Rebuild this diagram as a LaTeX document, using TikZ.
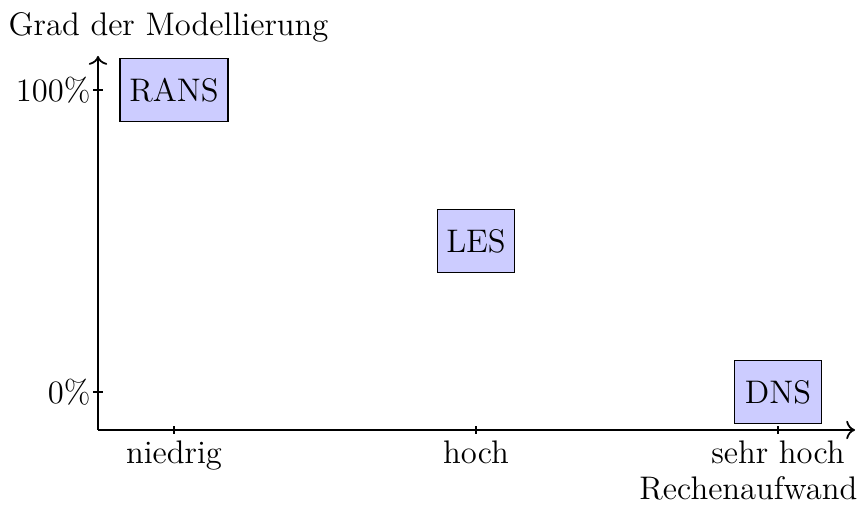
\documentclass[tikz,border=0pt]{standalone}
\usetikzlibrary{arrows.meta}
\begin{document}
\begin{tikzpicture}[x=0.34pt,y=0.34pt,
  every node/.style={font=\fontsize{11.1}{13}\selectfont},
  axis/.style={line width=0.6pt,-{To[length=3pt]}},
  tick/.style={line width=0.5pt},
  method/.style={draw=black,line width=0.4pt,fill=blue!20,minimum height=21.4pt,inner sep=0pt},
  lbl/.style={inner sep=0pt}]
\useasboundingbox (0,0) rectangle (861,508);
\coordinate (O) at (98,78);
\coordinate (xend) at (855,78);
\coordinate (yend) at (98,452);
\draw[axis] (O) -- (xend);
\draw[axis] (O) -- (yend);
% x ticks
\foreach \x/\n in {174/tl,476/tm,778/th}{
  \coordinate (\n) at (\x,78);
  \draw[tick] (\x,74) -- (\x,82);
}
% y ticks
\coordinate (y0) at (98,116);
\coordinate (y100) at (98,418);
\draw[tick] (93,116) -- (103,116);
\draw[tick] (93,418) -- (103,418);
% labels
\node[lbl,anchor=east] (l100) at (91,418) {100\%};
\node[lbl,anchor=east] (l0) at (91,116) {0\%};
\node[lbl,anchor=base] (ln) at (174,44) {niedrig};
\node[lbl,anchor=base] (lh) at (476,44) {hoch};
\node[lbl,anchor=base] (ls) at (778,44) {sehr hoch};
\node[lbl,anchor=base east] (lx) at (858,8) {Rechenaufwand};
\node[lbl,anchor=base west] (ly) at (8,472) {Grad der Modellierung};
% methods
\node[method,minimum width=36.7pt] (rans) at (174,418) {RANS};
\node[method,minimum width=26.2pt] (les) at (476,267) {LES};
\node[method,minimum width=29.6pt] (dns) at (778,116) {DNS};
\end{tikzpicture}
\end{document}
